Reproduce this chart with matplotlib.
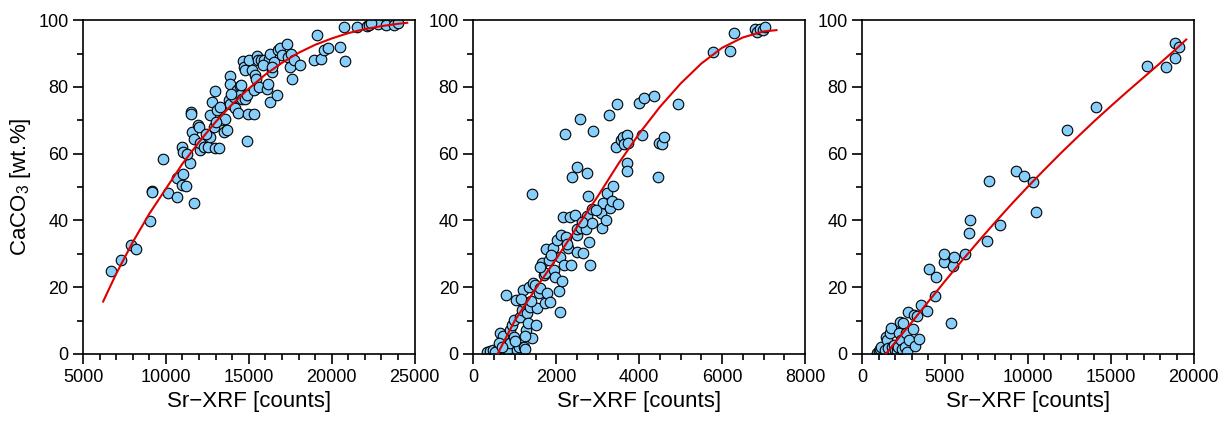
import numpy as np
import matplotlib
matplotlib.use('Agg')
import matplotlib.pyplot as plt
from matplotlib.ticker import MultipleLocator

plt.rcParams['font.family'] = ['Liberation Sans', 'DejaVu Sans']
plt.rcParams['mathtext.default'] = 'regular'

# ====================== panel 1 ======================
sr1 = [6717, 7263, 7889, 8192, 9040, 9141, 9180, 9808, 10152, 10697, 10657, 10960,
       11060, 11020, 10960, 11222, 11424, 11707, 11505, 11525, 11566, 11667, 11909,
       11970, 12070, 12070, 12273, 12515, 12636, 12677, 12757, 12939, 12878, 12980,
       13182, 13080, 13283, 13384, 13485, 13586, 13687, 13788, 13848, 13889, 13889,
       14091, 14192, 14293, 14333, 14454, 14495, 14596, 14657, 14737, 14798, 14798,
       14899, 14939, 14899, 15040, 15202, 15303, 15343, 15404, 15444, 15505, 15545,
       15606, 15747, 15909, 16111, 16151, 16212, 16273, 16273, 16414, 16525, 16717,
       16757, 16878, 17020, 17283, 17363, 17485, 17566, 17626, 17727, 18091, 18939,
       19141, 19343, 19545, 19788, 20515, 20758, 20798, 21525, 22131, 22273, 22778,
       23283, 23788, 23990, 22374, 13000, 13950, 14550, 15850, 16400, 12400, 11300]
caco1 = [24.7, 28.1, 32.6, 31.3, 39.9, 48.9, 48.6, 58.4, 48.1, 47.1, 52.6, 62.1,
         60.6, 53.9, 50.6, 50.3, 57.1, 45.1, 72.4, 71.8, 66.6, 64.3, 68.6,
         68.1, 61.1, 63.1, 62.1, 62.1, 71.6, 64.9, 75.5, 78.8, 68.1, 61.6,
         61.6, 73.1, 74.1, 70.1, 66.6, 70.3, 67.1, 76.0, 83.2, 81.0, 75.0,
         77.0, 73.6, 79.0, 72.3, 80.2, 77.5, 76.5, 87.7, 86.0, 85.0, 76.5,
         77.5, 71.9, 63.9, 88.2, 85.0, 71.9, 79.2, 83.5, 82.5, 89.2, 88.0,
         80.0, 88.0, 88.0, 79.5, 81.0, 88.5, 90.0, 75.5, 84.5, 87.5, 77.5,
         91.0, 91.5, 89.5, 92.8, 89.0, 86.0, 90.0, 82.5, 88.0, 86.7, 88.0,
         95.5, 88.5, 91.0, 91.7, 92.0, 98.0, 87.7, 97.8, 98.2, 98.5, 98.7,
         98.5, 98.6, 99.2, 99.2, 69.5, 77.8, 80.5, 86.5, 86.0, 66.0, 60.0]
fit1_x = [6212, 7000, 8000, 9000, 10000, 11000, 12000, 13000, 14000, 15000, 16000,
          17000, 18000, 19000, 20000, 21000, 22000, 23000, 24000, 24556]
fit1_y = [15.7, 24.0, 33.5, 42.0, 49.5, 57.0, 63.5, 69.5, 74.8, 79.5, 83.7,
          87.2, 90.2, 92.6, 94.5, 96.1, 97.3, 98.2, 98.9, 99.2]

# ====================== panel 2 ======================
sr2 = [323, 404, 485, 582, 525, 646, 711, 606, 792, 808, 873, 889, 929, 970, 986, 1034,
       1051, 1091, 1131, 1172, 1196, 1212, 1228, 1253, 1277, 1293, 1309, 1333, 1358,
       1414, 1414, 1438, 1495, 1519, 1535, 1576, 1616, 1657, 1697, 1737, 1737, 1762,
       1778, 1818, 1859, 1923, 1939, 1980, 2020, 2061, 2085, 2101, 2125, 2141, 2182,
       2166, 2206, 2246, 2279, 2343, 2359, 2368, 2448, 2489, 2489, 2505, 2505, 2570,
       2586, 2651, 2707, 2731, 2747, 2764, 2788, 2812, 2869, 2893, 2869, 3087, 3111,
       3135, 3216, 3273, 3297, 3337, 3378, 3434, 3475, 3491, 3572, 3620, 3636, 3701,
       3701, 3717, 3733, 3996, 4065, 4121, 4364, 4461, 4485, 4541, 4606, 4946, 5778,
       6182, 6287, 6804, 6853, 6909, 6990, 7046, 1150, 1380, 1600, 1880, 2250, 2620,
       1000, 1250, 700, 2950, 3200]
caco2 = [0.7, 1.0, 1.2, 1.4, 0.7, 6.4, 5.4, 3.2, 17.7, 1.2, 3.2, 7.2, 8.7, 10.2, 5.2, 16.2,
         1.2, 2.2, 11.2, 13.2, 19.2, 15.7, 2.2, 1.4, 7.2, 12.2, 9.2, 20.2, 14.2,
         47.9, 4.7, 21.2, 20.7, 8.7, 13.7, 18.2, 19.7, 27.1, 23.7, 24.2, 15.4, 31.3,
         18.2, 28.1, 15.7, 31.6, 25.1, 23.2, 34.1, 18.9, 12.7, 28.9, 35.6, 21.9, 26.6,
         40.9, 65.9, 35.1, 31.6, 40.9, 26.6, 53.1, 41.6, 35.6, 37.3, 55.9, 30.6, 70.4,
         37.6, 30.1, 37.3, 54.1, 41.3, 47.3, 33.6, 26.6, 43.3, 66.9, 39.3, 42.3, 37.6,
         45.3, 48.3, 71.6, 43.7, 45.7, 50.3, 62.1, 74.9, 44.9, 64.1, 65.1, 62.9, 57.1,
         54.9, 65.6, 63.3, 75.1, 65.6, 76.8, 77.3, 52.9, 63.1, 62.9, 65.1, 74.9, 90.5,
         90.8, 96.2, 97.2, 96.5, 97.2, 97.0, 97.8, 16.5, 16.0, 26.0, 29.5, 33.0, 39.5,
         4.0, 5.5, 2.0, 43.0, 40.0]
fit2_x = [582, 1000, 1500, 2000, 2500, 3000, 3500, 4000, 4500, 5000, 5500, 6000,
          6500, 7000, 7313]
fit2_y = [0.0, 10.0, 19.5, 28.5, 38.0, 47.2, 57.0, 66.0, 74.0, 81.0, 87.0, 91.7,
          94.8, 96.6, 97.0]

# ====================== panel 3 ======================
sr3 = [909, 1030, 1111, 1172, 1374, 1434, 1475, 1576, 1677, 1717, 1778, 1838, 1919,
       1980, 2081, 2121, 2182, 2242, 2283, 2323, 2384, 2485, 2586, 2646, 2727, 2788,
       2848, 3091, 3131, 3192, 3293, 3455, 3535, 3899, 4061, 4404, 4465, 4949, 4970,
       5374, 5475, 5556, 6222, 6424, 6525, 7535, 7636, 8343, 9313, 9758, 10323, 10465,
       12384, 14101, 17172, 18343, 18889, 18889, 19091]
caco3 = [0.4, 1.0, 1.4, 2.2, 1.2, 5.2, 4.2, 1.7, 6.2, 7.7, 2.2, 0.7, 2.7,
         1.2, 1.7, 0.7, 2.2, 6.2, 9.7, 4.2, 1.4, 9.2, 2.2, 6.2, 0.7, 12.7,
         4.2, 7.4, 11.7, 2.4, 11.4, 4.4, 14.7, 13.0, 25.3, 17.4, 23.2, 27.6, 29.8,
         9.2, 26.3, 29.1, 29.9, 36.3, 40.1, 33.9, 51.9, 38.6, 54.9, 53.3, 51.6, 42.4,
         67.1, 73.9, 86.2, 86.0, 93.0, 88.8, 91.8]
fit3_x = [1434, 2000, 3000, 4000, 5000, 6000, 7000, 8000, 9000, 10000, 11000, 12000,
          13000, 14000, 15000, 16000, 17000, 18000, 19000, 19556]
fit3_y = [0.0, 3.5, 9.5, 15.7, 21.8, 27.8, 33.6, 39.3, 44.8, 50.1, 55.2, 60.2,
          65.0, 69.7, 74.2, 78.6, 82.9, 87.2, 91.6, 94.2]

panels = [
    (sr1, caco1, fit1_x, fit1_y, (5000, 25000), 5000, 1000),
    (sr2, caco2, fit2_x, fit2_y, (0, 8000), 2000, 500),
    (sr3, caco3, fit3_x, fit3_y, (0, 20000), 5000, 1000),
]
lefts = [0.0676, 0.3855, 0.702]

fig = plt.figure(figsize=(12.28, 4.28), dpi=100)
for i, (x, y, fx, fy, xlim, major, minor) in enumerate(panels):
    ax = fig.add_axes([lefts[i], 0.173, 0.270, 0.780])
    ax.scatter(x, y, s=58, c='#87CEFA', edgecolors='black', linewidths=0.8, zorder=2)
    ax.plot(fx, fy, color='#DD0000', linewidth=1.5, zorder=3)
    ax.set_xlim(*xlim)
    ax.set_ylim(0, 100)
    ax.xaxis.set_major_locator(MultipleLocator(major))
    ax.xaxis.set_minor_locator(MultipleLocator(minor))
    ax.yaxis.set_major_locator(MultipleLocator(20))
    ax.yaxis.set_minor_locator(MultipleLocator(10))
    ax.tick_params(which='major', direction='out', length=7, width=1.2, labelsize=13)
    ax.tick_params(which='minor', direction='out', length=4, width=1.2)
    for s in ax.spines.values():
        s.set_linewidth(1.2)
    ax.set_xlabel('Sr\u2212XRF [counts]', fontsize=16)
    if i == 0:
        ax.set_ylabel('CaCO$_3$ [wt.%]', fontsize=16)

plt.savefig('out.png', dpi=100)
